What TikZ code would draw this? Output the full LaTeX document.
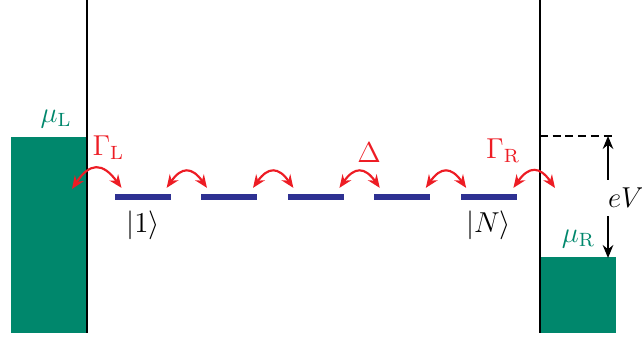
\documentclass[tikz,border=0pt]{standalone}
\usepackage{amsmath}
\usepackage{tikz}
\usetikzlibrary{arrows.meta, positioning}
\definecolor{leadgreen}{RGB}{0,135,108}
\definecolor{siteblue}{RGB}{46,49,146}
\definecolor{hopred}{RGB}{237,28,36}
\tikzstyle{every node}=[font=\fontsize{11.5}{13.8}\selectfont]
\tikzstyle{site}=[fill=siteblue,rectangle,inner sep=0pt,minimum width=23.3pt,minimum height=2.2pt]
\tikzstyle{lead}=[fill=leadgreen,rectangle,inner sep=0pt]
\tikzstyle{hop}=[hopred,line width=0.9pt,<->,bend left=55,looseness=1.65]
\tikzstyle{wall}=[line width=1.1pt]

\begin{document}
\begin{tikzpicture}[x=0.4167pt,y=-0.4167pt,>={Stealth[length=5.4pt,width=4.4pt]},node distance=12.3pt]
    \useasboundingbox (0,0) rectangle (642,339);
    % leads
    \node[lead, minimum width=31.25pt, minimum height=81.7pt] (leadL) at (48.5,235) {};
    \node[lead, minimum width=31.25pt, minimum height=31.7pt] (leadR) at (578.5,295) {};
    \node[text=leadgreen, above left, xshift=-2.7pt] (muL) at (leadL.north east) {$\mu_{\mathrm{L}}$};
    \node[text=leadgreen, above] (muR) at (leadR.north) {$\mu_{\mathrm{R}}$};
    \coordinate (wlt) at (87,0);
    \coordinate (wlb) at (87,333);
    \coordinate (wrt) at (540,0);
    \coordinate (wrb) at (540,333);
    \draw[wall] (wlt) -- (wlb);
    \draw[wall] (wrt) -- (wrb);
    % chain
    \node[site] (l1) at (143,197) {};
    \node[site, right=of l1] (l2) {};
    \node[site, right=of l2] (l3) {};
    \node[site, right=of l3] (l4) {};
    \node[site, right=of l4] (l5) {};
    \node[below=1pt of l1] (k1) {$|1\rangle$};
    \node[below=1pt of l5] (kN) {$|N\rangle$};
    % tunnelling
    \coordinate (gl) at (72,189);
    \coordinate (gr) at (555,188);
    \draw[hop] (gl) to node[above, xshift=5pt] (GL) {$\Gamma_{\mathrm{L}}$} ([shift={(2.9pt,2.5pt)}]l1.north west);
    \draw[hop] ([shift={(-2pt,2.5pt)}]l1.north east) to ([shift={(2.5pt,2.5pt)}]l2.north west);
    \draw[hop] ([shift={(-2pt,2.5pt)}]l2.north east) to ([shift={(2.5pt,2.5pt)}]l3.north west);
    \draw[hop] ([shift={(-2pt,2.5pt)}]l3.north east) to node[above, xshift=4pt] (D) {$\Delta$} ([shift={(2.5pt,2.5pt)}]l4.north west);
    \draw[hop] ([shift={(-2pt,2.5pt)}]l4.north east) to ([shift={(2.5pt,2.5pt)}]l5.north west);
    \draw[hop] ([shift={(-1.5pt,2.5pt)}]l5.north east) to node[above, xshift=-13pt] (GR) {$\Gamma_{\mathrm{R}}$} (gr);
    % bias
    \coordinate (vt) at (608,136);
    \coordinate (vb) at (608,258);
    \node (eV) at (626,198) {$eV$};
    \draw[dash pattern=on 3.3pt off 2pt, line width=0.85pt] (wrt |- vt) -- ++(72,0);
    \draw[->, line width=0.85pt] (vt |- eV.north) -- (vt);
    \draw[->, line width=0.85pt] (vb |- eV.south) -- (vb);
\end{tikzpicture}
\end{document}
